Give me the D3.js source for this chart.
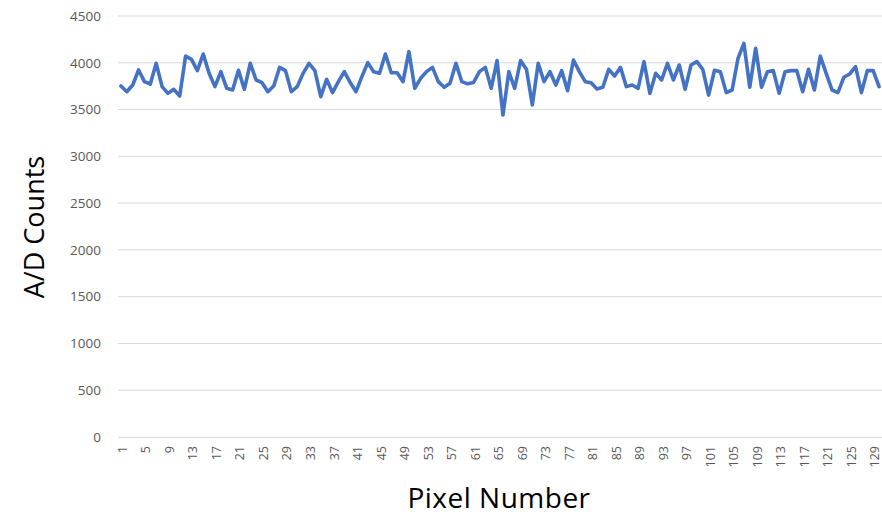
<!DOCTYPE html>
<html>
<head>
<meta charset="utf-8">
<script src="https://cdn.jsdelivr.net/npm/d3@7"></script>
<style>
  html, body { margin: 0; padding: 0; background: #ffffff; }
  svg { display: block; font-family: "Open Sans", "Noto Sans", sans-serif; }
</style>
</head>
<body>
<svg id="chart" width="882" height="516"></svg>
<script>
// A/D counts read out for each pixel of the sensor line
const pixels = d3.range(1, 131);
const counts = [
  3752, 3691, 3762, 3923, 3798, 3773, 3994, 3745, 3673, 3716,
  3645, 4072, 4037, 3916, 4094, 3887, 3745, 3905, 3727, 3709,
  3920, 3716, 3994, 3816, 3787, 3691, 3752, 3951, 3916, 3691,
  3745, 3887, 3994, 3916, 3638, 3823, 3681, 3798, 3905, 3790,
  3691, 3852, 4001, 3905, 3887, 4094, 3894, 3894, 3798, 4119,
  3727, 3834, 3905, 3951, 3798, 3738, 3780, 3994, 3798, 3775,
  3790, 3905, 3951, 3727, 4023, 3442, 3905, 3727, 4023, 3930,
  3549, 3994, 3798, 3905, 3762, 3916, 3702, 4030, 3905, 3798,
  3787, 3720, 3738, 3930, 3859, 3951, 3745, 3762, 3727, 4012,
  3673, 3887, 3816, 3994, 3816, 3976, 3716, 3976, 4012, 3930,
  3655, 3920, 3905, 3681, 3709, 4048, 4208, 3738, 4154, 3738,
  3905, 3916, 3673, 3905, 3916, 3916, 3691, 3930, 3709, 4072,
  3887, 3709, 3681, 3845, 3880, 3958, 3681, 3916, 3916, 3745
];
const yTicks = [0, 500, 1000, 1500, 2000, 2500, 3000, 3500, 4000, 4500];
const xTickLabels = d3.range(1, 130, 4);

const svg = d3.select("#chart");
const plot = { left: 118, right: 882, top: 16, bottom: 437 };

const x = d3.scaleBand()
  .domain(pixels)
  .range([plot.left, plot.right]);
const y = d3.scaleLinear().domain([0, 4500]).range([plot.bottom, plot.top]);
const cx = d => x(d) + x.bandwidth() / 2;

// horizontal gridlines
svg.append("g")
  .selectAll("line")
  .data(yTicks.filter(v => v > 0))
  .join("line")
  .attr("x1", plot.left).attr("x2", plot.right)
  .attr("y1", d => y(d)).attr("y2", d => y(d))
  .attr("stroke", "#d9d9d9").attr("stroke-width", 1);

// y axis labels
const yAxis = svg.append("g")
  .attr("transform", `translate(${plot.left},0)`)
  .call(d3.axisLeft(y).tickValues(yTicks).tickFormat(d3.format("d")).tickSize(0).tickPadding(17));
yAxis.select(".domain").remove();
yAxis.selectAll("text")
  .attr("font-size", 13.5).attr("fill", "#595959")
  .attr("font-family", "\"Open Sans\", sans-serif");

// x axis with rotated category labels
const xAxis = svg.append("g")
  .attr("transform", `translate(0,${plot.bottom})`)
  .call(d3.axisBottom(x).tickValues(xTickLabels).tickSize(0));
xAxis.select(".domain").attr("stroke", "#d9d9d9").attr("stroke-width", 1.2);
xAxis.selectAll("text")
  .attr("font-size", 12.5).attr("fill", "#595959")
  .attr("font-family", "\"Open Sans\", sans-serif")
  .attr("text-anchor", "end")
  .attr("dy", null)
  .attr("transform", "translate(3,9) rotate(-90)");

// data line
svg.append("path")
  .datum(pixels)
  .attr("fill", "none")
  .attr("stroke", "#4472c4")
  .attr("stroke-width", 3.6)
  .attr("stroke-linejoin", "round")
  .attr("stroke-linecap", "round")
  .attr("d", d3.line().x(d => cx(d)).y((d, i) => y(counts[i])));

// axis titles
svg.append("text")
  .attr("transform", "translate(44,227) rotate(-90)")
  .attr("text-anchor", "middle")
  .attr("font-size", 27).attr("fill", "#000")
  .text("A/D Counts");
svg.append("text")
  .attr("x", 499).attr("y", 508)
  .attr("text-anchor", "middle")
  .attr("font-size", 28).attr("fill", "#000")
  .attr("letter-spacing", 0.5)
  .text("Pixel Number");
</script>
</body>
</html>
